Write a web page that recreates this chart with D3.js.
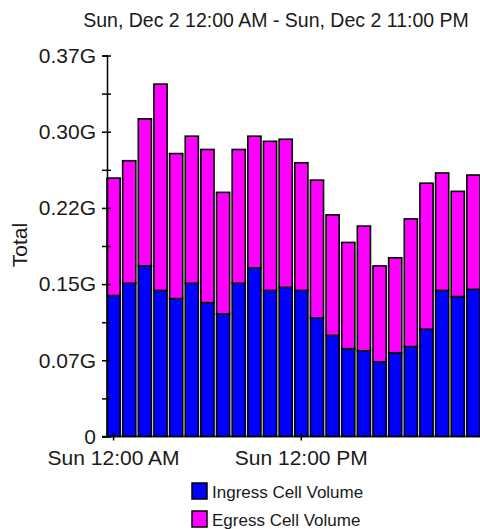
<!DOCTYPE html>
<html>
<head>
<meta charset="utf-8">
<script src="https://cdn.jsdelivr.net/npm/d3@7"></script>
<style>
  body { margin: 0; background: #fff; }
  svg { display: block; font-family: "Liberation Sans", Arial, sans-serif; }
</style>
</head>
<body>
<svg id="chart" width="480" height="529"></svg>
<script>
const subtitle = "Sun, Dec 2 12:00 AM - Sun, Dec 2 11:00 PM";
const hours = d3.range(24);
// values in G (billions of cells)
const ingress = [0.138, 0.150, 0.167, 0.143, 0.135, 0.150, 0.131, 0.120, 0.150, 0.165, 0.143, 0.146,
                 0.143, 0.116, 0.099, 0.086, 0.084, 0.073, 0.082, 0.088, 0.105, 0.143, 0.137, 0.144];
const egress  = [0.115, 0.120, 0.144, 0.202, 0.142, 0.144, 0.150, 0.119, 0.131, 0.129, 0.146, 0.145,
                 0.125, 0.135, 0.118, 0.104, 0.122, 0.094, 0.093, 0.125, 0.143, 0.115, 0.103, 0.112];
const yTicks = [0, 0.0746, 0.1492, 0.2238, 0.2984, 0.373];
const yTickLabels = ["0", "0.07G", "0.15G", "0.22G", "0.30G", "0.37G"];
const xTicks = [0, 12];
const xTickLabels = ["Sun 12:00 AM", "Sun 12:00 PM"];
const seriesNames = ["Ingress Cell Volume", "Egress Cell Volume"];
const colors = ["#0000ff", "#ff00ff"];

const svg = d3.select("#chart");

const x = d3.scaleBand()
  .domain(hours)
  .range([107, 480])
  .paddingInner(0.16)
  .paddingOuter(0);

const y = d3.scaleLinear()
  .domain([0, 0.373])
  .range([436.5, 55.5]);

// subtitle
svg.append("text")
  .attr("x", 276)
  .attr("y", 27)
  .attr("text-anchor", "middle")
  .style("font-size", "19.5px")
  .style("fill", "#1a1a1a")
  .text(subtitle);

// stacked bars
const data = hours.map(h => ({ hour: h, ingress: ingress[h], egress: egress[h] }));
const stacked = d3.stack().keys(["ingress", "egress"])(data);

svg.append("g")
  .selectAll("g")
  .data(stacked)
  .join("g")
    .attr("fill", (d, i) => colors[i])
  .selectAll("rect")
  .data(d => d)
  .join("rect")
    .attr("x", d => x(d.data.hour))
    .attr("y", d => y(d[1]))
    .attr("width", x.bandwidth())
    .attr("height", d => y(d[0]) - y(d[1]))
    .attr("stroke", "#000")
    .attr("stroke-width", 1.6);

// y axis
const yAxis = svg.append("g")
  .attr("transform", "translate(107,0)")
  .call(d3.axisLeft(y)
    .tickValues(yTicks)
    .tickFormat((d, i) => yTickLabels[i])
    .tickSize(5)
    .tickPadding(6));
yAxis.select(".domain").attr("stroke", "#000").attr("stroke-width", 1.5);
yAxis.selectAll(".tick line").attr("x1", 4).attr("stroke-width", 1.5);
yAxis.selectAll(".tick text")
  .style("font-size", "21px")
  .style("font-family", "'Liberation Sans', Arial, sans-serif")
  .attr("fill", "#1a1a1a");

// minor y ticks
const minor = d3.pairs(yTicks).map(p => (p[0] + p[1]) / 2);
svg.append("g")
  .attr("transform", "translate(107,0)")
  .call(d3.axisLeft(y).tickValues(minor).tickFormat("").tickSize(5))
  .call(g => g.select(".domain").remove())
  .selectAll(".tick line").attr("x1", 4).attr("stroke-width", 1.5);

// x axis
const xAxis = svg.append("g")
  .attr("transform", "translate(0,436.5)")
  .call(d3.axisBottom(x)
    .tickValues(xTicks)
    .tickFormat((d, i) => xTickLabels[i])
    .tickSize(4)
    .tickPadding(10)
    .tickSizeOuter(0));
xAxis.select(".domain").attr("d", "M102,0H480").attr("stroke", "#000").attr("stroke-width", 1.5);
xAxis.selectAll(".tick line").attr("y1", -4).attr("stroke-width", 1.5);
xAxis.selectAll(".tick text")
  .style("font-size", "21px")
  .style("font-family", "'Liberation Sans', Arial, sans-serif")
  .attr("fill", "#1a1a1a");

// y label
svg.append("text")
  .attr("transform", "translate(27,245) rotate(-90)")
  .attr("text-anchor", "middle")
  .style("font-size", "21px")
  .style("fill", "#1a1a1a")
  .text("Total");

// legend
const legend = svg.append("g")
  .selectAll("g")
  .data(seriesNames)
  .join("g")
    .attr("transform", (d, i) => `translate(192,${483 + i * 28})`);
legend.append("rect")
  .attr("width", 15)
  .attr("height", 16)
  .attr("fill", (d, i) => colors[i])
  .attr("stroke", "#000")
  .attr("stroke-width", 1.5);
legend.append("text")
  .attr("x", 20)
  .attr("y", 15)
  .style("font-size", "17px")
  .style("fill", "#1a1a1a")
  .text(d => d);
</script>
</body>
</html>
